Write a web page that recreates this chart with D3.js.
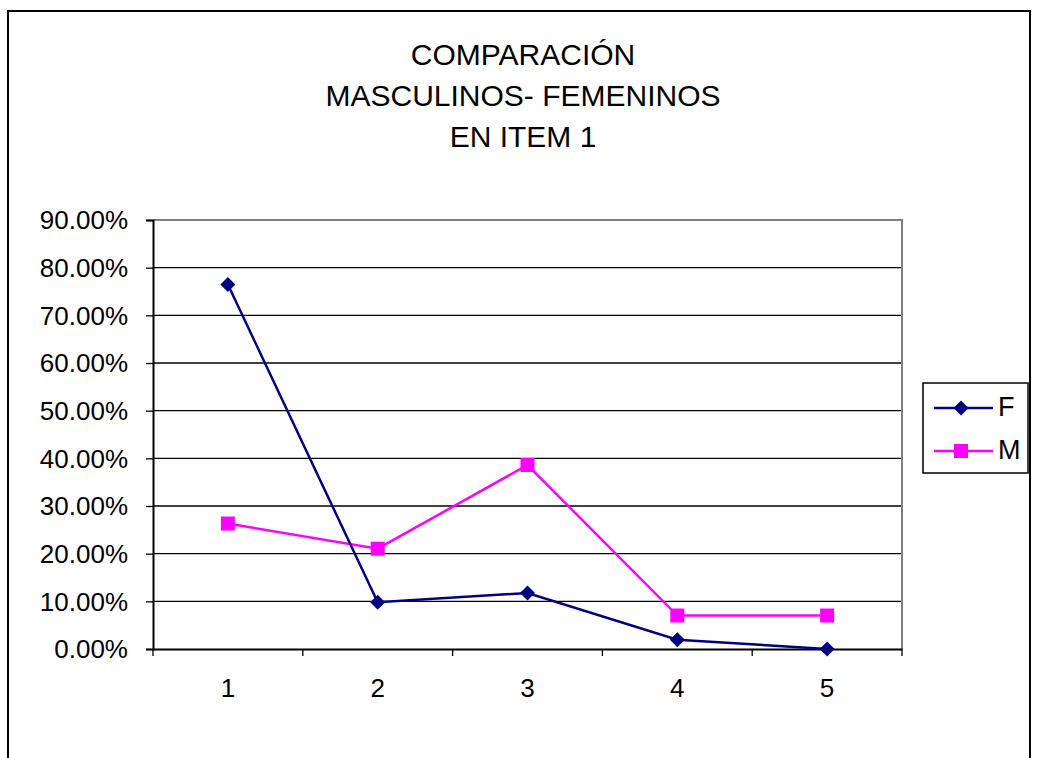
<!DOCTYPE html>
<html><head><meta charset="utf-8">
<script src="https://cdn.jsdelivr.net/npm/d3@7"></script>
<style>body{margin:0;background:#fff}svg{display:block}text{font-family:"Liberation Sans",Arial,sans-serif}</style>
</head><body>
<svg id="c" width="1038" height="758"></svg>
<script>
const categories = ["1","2","3","4","5"];
const seriesF = [76.47, 9.80, 11.76, 1.96, 0];
const seriesM = [26.32, 21.05, 38.60, 7.02, 7.02];
const yTicks = [0,10,20,30,40,50,60,70,80,90];
const titleLines = ["COMPARACIÓN","MASCULINOS- FEMENINOS","EN ITEM 1"];
const legendNames = ["F","M"];

const svg = d3.select("#c");
svg.append("rect").attr("x",8).attr("y",11).attr("width",1022).attr("height",780)
  .attr("fill","#fff").attr("stroke","#000").attr("stroke-width",2);

const L=153,R=902,T=220,B=649;
const x = d3.scaleBand().domain(categories).range([L,R]);
const y = d3.scaleLinear().domain([0,90]).range([B,T]);

// gridlines
svg.append("g").selectAll("line").data(yTicks.filter(d=>d>0&&d<90)).join("line")
  .attr("x1",L).attr("x2",R).attr("y1",d=>y(d)).attr("y2",d=>y(d))
  .attr("stroke","#000").attr("stroke-width",1.3);
// plot border top/right gray
svg.append("path").attr("d",`M${L},${T}H${R}V${B}`).attr("fill","none").attr("stroke","#808080").attr("stroke-width",2);

// y axis
const ya = svg.append("g").attr("transform",`translate(${L},0)`)
  .call(d3.axisLeft(y).tickValues(yTicks).tickSize(7).tickPadding(18).tickFormat(d=>d.toFixed(2)+"%"));
ya.select(".domain").attr("stroke","#000").attr("stroke-width",2);
ya.selectAll(".tick line").attr("stroke","#000").attr("stroke-width",1.3);
ya.selectAll("text").attr("font-size",26).attr("dy","0.34em").attr("fill","#000").style("font-family","Liberation Sans, Arial");

// x axis
const xa = svg.append("g").attr("transform",`translate(0,${B})`)
  .call(d3.axisBottom(x).tickSize(0).tickPadding(30));
xa.select(".domain").attr("stroke","#000").attr("stroke-width",2);
xa.selectAll("text").attr("font-size",26).attr("fill","#000").style("font-family","Liberation Sans, Arial");
const bounds = categories.map(c=>x(c)).concat([R]);
xa.append("g").selectAll("line").data(bounds).join("line")
  .attr("x1",d=>d).attr("x2",d=>d).attr("y1",0).attr("y2",7).attr("stroke","#000").attr("stroke-width",1.3);

const cx = c=>x(c)+x.bandwidth()/2;
const line = d3.line().x((d,i)=>cx(categories[i])).y(d=>y(d));

function diamond(g, px, py, s, col){
  g.append("path").attr("d",`M${px},${py-s}L${px+s},${py}L${px},${py+s}L${px-s},${py}Z`).attr("fill",col);
}
function square(g, px, py, s, col){
  g.append("rect").attr("x",px-s).attr("y",py-s).attr("width",2*s).attr("height",2*s).attr("fill",col);
}

const gM = svg.append("g");
gM.append("path").datum(seriesM).attr("d",line).attr("fill","none").attr("stroke","#FF00FF").attr("stroke-width",2.5);
seriesM.forEach((v,i)=>square(gM,cx(categories[i]),y(v),7,"#FF00FF"));
const gF = svg.append("g");
gF.append("path").datum(seriesF).attr("d",line).attr("fill","none").attr("stroke","#000080").attr("stroke-width",2.5);
seriesF.forEach((v,i)=>diamond(gF,cx(categories[i]),y(v),7.5,"#000080"));

// title
svg.append("g").selectAll("text").data(titleLines).join("text")
  .attr("x",523).attr("y",(d,i)=>65+i*41).attr("text-anchor","middle")
  .attr("font-size",30).attr("fill","#000").text(d=>d);

// legend
const lg = svg.append("g");
lg.append("rect").attr("x",923).attr("y",383).attr("width",105).attr("height",90)
  .attr("fill","#fff").attr("stroke","#000").attr("stroke-width",1.5);
const cols = ["#000080","#FF00FF"];
legendNames.forEach((n,i)=>{
  const ly = 408 + i*43;
  lg.append("line").attr("x1",934).attr("x2",993).attr("y1",ly).attr("y2",ly).attr("stroke",cols[i]).attr("stroke-width",2.5);
  if(i===0) diamond(lg,961,ly,7.5,cols[i]); else square(lg,961,ly,7,cols[i]);
  lg.append("text").attr("x",998).attr("y",ly+8).attr("font-size",27).attr("fill","#000").text(n);
});
</script>
</body></html>
